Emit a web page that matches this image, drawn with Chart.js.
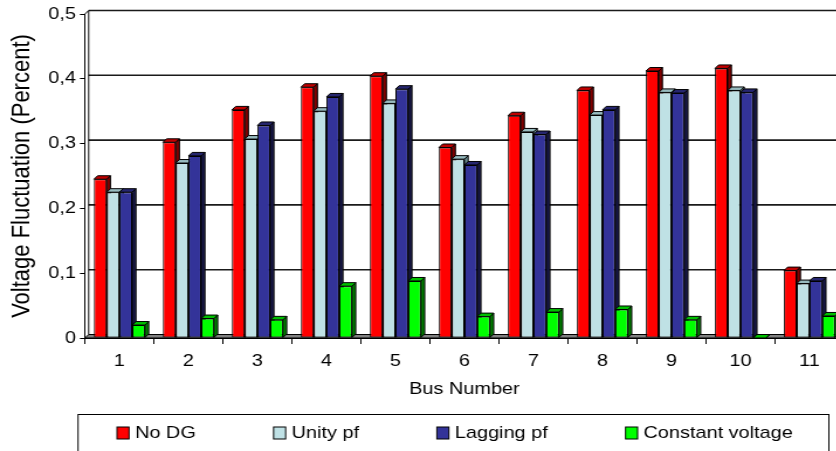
<!DOCTYPE html>
<html>
<head>
<meta charset="utf-8">
<script src="https://cdn.jsdelivr.net/npm/chart.js@4.4.1/dist/chart.umd.min.js"></script>
<style>
  html, body { margin: 0; padding: 0; background: #fff; overflow: hidden; }
</style>
</head>
<body>
<!-- the original picture is stretched sideways, so the canvas is too -->
<canvas id="chart" width="724" height="451" style="width:847px;height:451px"></canvas>
<script>
const busNumbers = ['1', '2', '3', '4', '5', '6', '7', '8', '9', '10', '11'];
const noDG = [0.245, 0.302, 0.352, 0.387, 0.404, 0.294, 0.343, 0.382, 0.412, 0.416, 0.104];
const unityPf = [0.225, 0.270, 0.307, 0.350, 0.362, 0.276, 0.318, 0.344, 0.379, 0.382, 0.084];
const laggingPf = [0.225, 0.281, 0.328, 0.372, 0.384, 0.267, 0.314, 0.352, 0.378, 0.379, 0.088];
const constantVoltage = [0.020, 0.030, 0.028, 0.080, 0.088, 0.033, 0.040, 0.044, 0.028, 0, 0.034];
const yTicks = [0, 0.1, 0.2, 0.3, 0.4, 0.5];
const seriesNames = ['No DG', 'Unity pf', 'Lagging pf', 'Constant voltage'];

const frontColors = ['#ff0000', '#bfe1e5', '#333399', '#00ff00'];
const topColors = ['#c00000', '#98bcc0', '#26266f', '#00c000'];
const sideColors = ['#800000', '#6f9296', '#191948', '#008000'];

const FONT = "'Liberation Sans', Arial, sans-serif";
const DX = 3.2, DY = -3.5;   // depth of the 3d look

function poly(ctx, pts, fill) {
    ctx.beginPath();
    ctx.moveTo(pts[0][0], pts[0][1]);
    for (let i = 1; i < pts.length; i++) ctx.lineTo(pts[i][0], pts[i][1]);
    ctx.closePath();
    ctx.fillStyle = fill;
    ctx.fill();
    ctx.stroke();
}

// back wall, floor and the sides/tops of the columns
const bars3d = {
    id: 'bars3d',
    beforeDatasetsDraw(chart) {
        const {ctx, chartArea: a, scales: {y}} = chart;
        ctx.save();
        ctx.strokeStyle = '#000';
        ctx.lineWidth = 1;

        // floor
        const y0 = y.getPixelForValue(0);
        poly(ctx, [[a.left, y0], [a.left + DX, y0 + DY], [a.right + 10, y0 + DY], [a.right + 10, y0]], '#808080');

        // grid lines on the back wall
        ctx.strokeStyle = '#1a1a1a';
        ctx.lineWidth = 1.6;
        yTicks.slice(1).forEach(v => {
            const py = y.getPixelForValue(v) + DY;
            ctx.beginPath();
            ctx.moveTo(a.left + DX, py);
            ctx.lineTo(a.right + 10, py);
            ctx.stroke();
        });

        // left wall back edge
        ctx.strokeStyle = '#000';
        ctx.lineWidth = 1;
        const yTop = y.getPixelForValue(0.5);
        ctx.beginPath();
        ctx.moveTo(a.left + DX, yTop + DY);
        ctx.lineTo(a.left + DX, y0 + DY);
        ctx.moveTo(a.left, yTop);
        ctx.lineTo(a.left + DX, yTop + DY);
        ctx.stroke();

        chart.data.datasets.forEach((ds, i) => {
            chart.getDatasetMeta(i).data.forEach(bar => {
                const {x, y: top, base, width} = bar.getProps(['x', 'y', 'base', 'width'], true);
                const l = x - width / 2, r = x + width / 2;
                poly(ctx, [[r, top], [r + DX, top + DY], [r + DX, base + DY], [r, base]], sideColors[i]);
                poly(ctx, [[l, top], [l + DX, top + DY], [r + DX, top + DY], [r, top]], topColors[i]);
            });
        });
        ctx.restore();
    }
};

// boxed legend below the axis title
const boxLegend = {
    id: 'boxLegend',
    afterDraw(chart) {
        const ctx = chart.ctx;
        ctx.save();
        ctx.strokeStyle = '#000';
        ctx.lineWidth = 1;
        ctx.strokeRect(66.7, 414.5, 641.8, 60);
        ctx.font = '17px ' + FONT;
        ctx.textBaseline = 'middle';
        let x = 100;
        const cy = 433;
        seriesNames.forEach((name, i) => {
            ctx.fillStyle = frontColors[i];
            ctx.fillRect(x, cy - 6, 10.3, 12);
            ctx.strokeRect(x, cy - 6, 10.3, 12);
            ctx.fillStyle = '#000';
            ctx.fillText(name, x + 15.4, cy);
            x += 15.4 + ctx.measureText(name).width + 66.5;
        });
        ctx.restore();
    }
};

const series = [noDG, unityPf, laggingPf, constantVoltage];

new Chart(document.getElementById('chart'), {
    type: 'bar',
    data: {
        labels: busNumbers,
        datasets: series.map((data, i) => ({
            label: seriesNames[i],
            data: data,
            backgroundColor: frontColors[i],
            borderColor: '#000',
            borderWidth: 1,
            borderSkipped: false,
            categoryPercentage: 0.74,
            barPercentage: 1.0
        }))
    },
    options: {
        responsive: false,
        animation: false,
        devicePixelRatio: 1,
        layout: { padding: { top: 14, right: 2.6, bottom: 51, left: 0 } },
        plugins: {
            legend: { display: false },
            tooltip: { enabled: false }
        },
        scales: {
            x: {
                grid: { offset: true, drawOnChartArea: false, tickLength: 6, color: '#000' },
                border: { display: true, color: '#000' },
                ticks: { color: '#000', padding: 7, font: { family: FONT, size: 17 } },
                title: {
                    display: true,
                    text: 'Bus Number',
                    color: '#000',
                    font: { family: FONT, size: 17 },
                    padding: { top: 0, bottom: 0.8 }
                },
                afterFit(scale) { scale.height = 62; }
            },
            y: {
                min: 0,
                max: 0.5,
                grid: { drawOnChartArea: false, tickLength: 4.3, color: '#000' },
                border: { display: true, color: '#000' },
                ticks: {
                    stepSize: 0.1,
                    color: '#000',
                    padding: 3.4,
                    font: { family: FONT, size: 17 },
                    callback: v => v === 0 ? '0' : v.toFixed(1).replace('.', ',')
                },
                title: {
                    display: true,
                    text: 'Voltage Fluctuation (Percent)',
                    color: '#000',
                    font: { family: FONT, size: 22 },
                    padding: { top: 5.6, bottom: 0 }
                },
                afterFit(scale) { scale.width = 72.6; }
            }
        }
    },
    plugins: [bars3d, boxLegend]
});
</script>
</body>
</html>
